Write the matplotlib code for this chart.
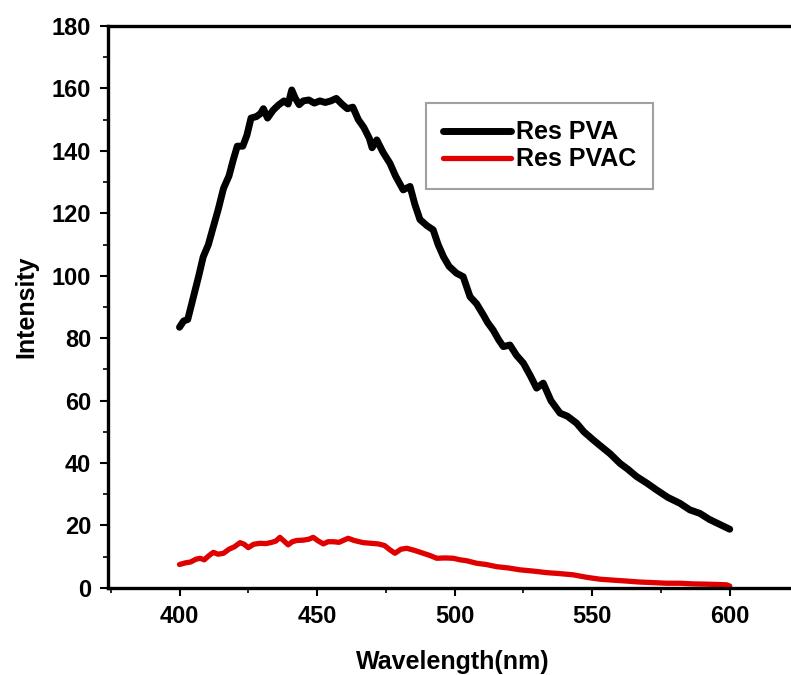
import matplotlib
matplotlib.use('Agg')
import matplotlib.pyplot as plt
from matplotlib.ticker import MultipleLocator

# Res PVA emission
pva_wavelength = [400, 401.5, 403, 405, 407, 408.6, 410.5, 412.3, 414, 416, 418, 419.5, 421, 423, 424.5,
                  426, 428, 429.5, 430.5, 432, 434, 436, 438, 439.5, 440.8, 442, 443.5, 445, 447, 449,
                  451, 453, 455, 457, 459, 461, 463, 465, 467, 469, 470, 471.7, 474, 476.5, 478.5,
                  481.3, 483.8, 485.5, 487.4, 490, 492.2, 494, 496, 498, 500.7, 503.1, 505.6, 508,
                  510.4, 512, 514, 516, 517.7, 520.1, 522.5, 525, 527.5, 529.8, 532.2, 535, 538.3,
                  541, 544.3, 547, 550.4, 553, 556.5, 560.1, 563, 566.1, 570, 573.4, 577.5, 581.9,
                  585.5, 589.1, 592.5, 596, 600]
pva_intensity = [83.5, 85.5, 86, 93, 100, 106, 110, 115.7, 121, 128, 132, 137, 141.5, 141.5, 145,
                 150.5, 151, 152, 153.5, 150.5, 153, 154.7, 156, 155, 159.5, 157, 154.8, 156, 156.3, 155.3,
                 156, 155.5, 156, 156.8, 155, 153.5, 154, 150, 147.5, 144, 141, 143.5, 139.5, 136, 132,
                 127.5, 128.6, 123, 118, 116, 114.7, 110, 106, 103, 100.8, 99.7, 93.3, 91,
                 87.5, 85, 82.6, 79.5, 77.3, 77.8, 74.5, 72, 68, 64, 65.6, 60, 56,
                 55, 52.8, 50, 47.4, 45.5, 43, 39.9, 38, 35.7, 33.5, 31.4, 29, 27.1,
                 25, 23.9, 22, 20.5, 18.8]

# Res PVAC emission
pvac_wavelength = [400, 402, 404, 406, 407.5, 409, 410.5, 412.3, 414, 416, 418, 420, 422, 423.5, 425,
                   427, 429.3, 431.5, 433.5, 435, 436.5, 438, 439.5, 441, 442.6, 445, 447, 448.6, 450.5,
                   452.3, 454, 455.9, 458, 460, 461.3, 463.5, 466.8, 469.5, 472.2, 474.5, 476.5, 478.3,
                   480.5, 482.6, 485.5, 488.6, 491, 493.5, 496.5, 499.5, 502, 504.4, 508, 511.5, 515.3,
                   519.5, 523.7, 528.5, 533.4, 538, 543.1, 548, 552.8, 557.5, 562.5, 567, 572.2, 577,
                   581.9, 586.5, 591.6, 595.5, 598.8, 600]
pvac_intensity = [7.5, 8.0, 8.3, 9.2, 9.5, 9.0, 10.2, 11.4, 10.8, 11.1, 12.4, 13.2, 14.5, 14.0, 12.9,
                  14.0, 14.3, 14.2, 14.6, 15.0, 16.2, 15.0, 13.8, 14.8, 15.2, 15.3, 15.6, 16.2, 15.0,
                  14.1, 14.8, 14.8, 14.6, 15.4, 15.9, 15.2, 14.5, 14.3, 14.1, 13.6, 12.2, 11.1,
                  12.4, 12.7, 12.0, 11.1, 10.4, 9.5, 9.6, 9.5, 9.0, 8.7, 7.9, 7.5, 6.8,
                  6.4, 5.8, 5.4, 4.9, 4.6, 4.2, 3.4, 2.8, 2.5, 2.2, 1.9, 1.7, 1.5,
                  1.5, 1.3, 1.2, 1.1, 1.0, 0.6]

x_ticks = [400, 450, 500, 550, 600]
y_ticks = [0, 20, 40, 60, 80, 100, 120, 140, 160, 180]

plt.rcParams['font.family'] = ['Liberation Sans', 'DejaVu Sans']
plt.rcParams['font.weight'] = 'bold'

fig = plt.figure(figsize=(7.91, 6.75), dpi=100)
# right edge sits past the figure: the reference is cropped on the right
ax = fig.add_axes([0.1365, 0.129, 0.873, 0.8325])

ax.plot(pva_wavelength, pva_intensity, color='black', lw=5, label='Res PVA', solid_capstyle='round')
ax.plot(pvac_wavelength, pvac_intensity, color='#e00000', lw=3.8, label='Res PVAC', solid_capstyle='round')

ax.set_xlim(374, 625)
ax.set_ylim(0, 180)
ax.set_xticks(x_ticks)
ax.set_yticks(y_ticks)
ax.xaxis.set_minor_locator(MultipleLocator(25))
ax.yaxis.set_minor_locator(MultipleLocator(10))

ax.spines['right'].set_visible(False)
for side in ['left', 'bottom', 'top']:
    ax.spines[side].set_linewidth(2.4)
ax.tick_params(which='major', direction='out', length=6, width=1.5, pad=6, labelsize=17)
ax.tick_params(which='minor', direction='out', length=3.5, width=1.2)
for lbl in ax.get_xticklabels() + ax.get_yticklabels():
    lbl.set_fontweight('bold')

ax.set_xlabel('Wavelength(nm)', fontsize=18, fontweight='bold', labelpad=16)
ax.set_ylabel('Intensity', fontsize=18, fontweight='bold', labelpad=10)

leg = ax.legend(loc='upper left', bbox_to_anchor=(0.46, 0.863), borderaxespad=0, fancybox=False,
                prop={'size': 18, 'weight': 'bold'}, handlelength=2.7, handletextpad=0.2,
                labelspacing=0.12, borderpad=0.7)
leg.get_frame().set_edgecolor('#888888')
leg.get_frame().set_linewidth(1.5)

fig.savefig('out.png', dpi=100)
